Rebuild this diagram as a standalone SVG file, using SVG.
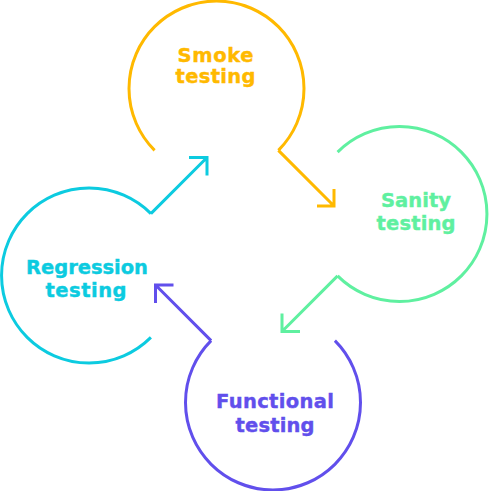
<svg xmlns="http://www.w3.org/2000/svg" width="490" height="491" viewBox="0 0 490 491">
<style>
.c{fill:none;stroke-width:3;stroke-linejoin:miter;stroke-linecap:butt}
.t{font-family:"DejaVu Sans","Liberation Sans",sans-serif;font-weight:bold;font-size:19.5px;text-anchor:middle;stroke-width:0.4}
.smoke{stroke:#FFB900}
.sanity{stroke:#5FF0A0}
.reg{stroke:#0CCBE0}
.func{stroke:#614FEC}
</style>
<rect width="490" height="491" fill="#FFFFFF"/>
<g id="connectors">
<path class="c smoke" d="M278.4,150.4 L334,206 M317,206 L334,206 L334,189"/>
<path class="c sanity" d="M337.6,275.9 L282,331.5 M300,331.5 L282,331.5 L282,313.5"/>
<path class="c func" d="M211.1,340.6 L155.5,285 M173.5,285 L155.5,285 L155.5,303"/>
<path class="c reg" d="M150.9,213.6 L207,157.5 M189,157.5 L207,157.5 L207,175.5"/>
</g>
<g id="smoke">
<path class="c smoke" d="M154.6,150.4 A87.5,87.5 0 1 1 278.4,150.4"/>
<text class="t smoke" fill="#FFB900"><tspan x="215.5" y="61.7" textLength="76" lengthAdjust="spacing">Smoke</tspan><tspan x="215.5" y="83.3" textLength="80" lengthAdjust="spacing">testing</tspan></text>
</g>
<g id="sanity">
<path class="c sanity" d="M337.6,152.1 A87.5,87.5 0 1 1 337.6,275.9"/>
<text class="t sanity" fill="#5FF0A0"><tspan x="416" y="207.3" textLength="70" lengthAdjust="spacing">Sanity</tspan><tspan x="416" y="230" textLength="79" lengthAdjust="spacing">testing</tspan></text>
</g>
<g id="functional">
<path class="c func" d="M334.9,340.6 A87.5,87.5 0 1 1 211.1,340.6"/>
<text class="t func" fill="#614FEC"><tspan x="275" y="408.3" textLength="118" lengthAdjust="spacing">Functional</tspan><tspan x="275" y="431.7" textLength="79" lengthAdjust="spacing">testing</tspan></text>
</g>
<g id="regression">
<path class="c reg" d="M150.9,337.4 A87.5,87.5 0 1 1 150.9,213.6"/>
<text class="t reg" fill="#0CCBE0"><tspan x="87" y="274" textLength="122" lengthAdjust="spacing">Regression</tspan><tspan x="86" y="296.7" textLength="81" lengthAdjust="spacing">testing</tspan></text>
</g>
</svg>
